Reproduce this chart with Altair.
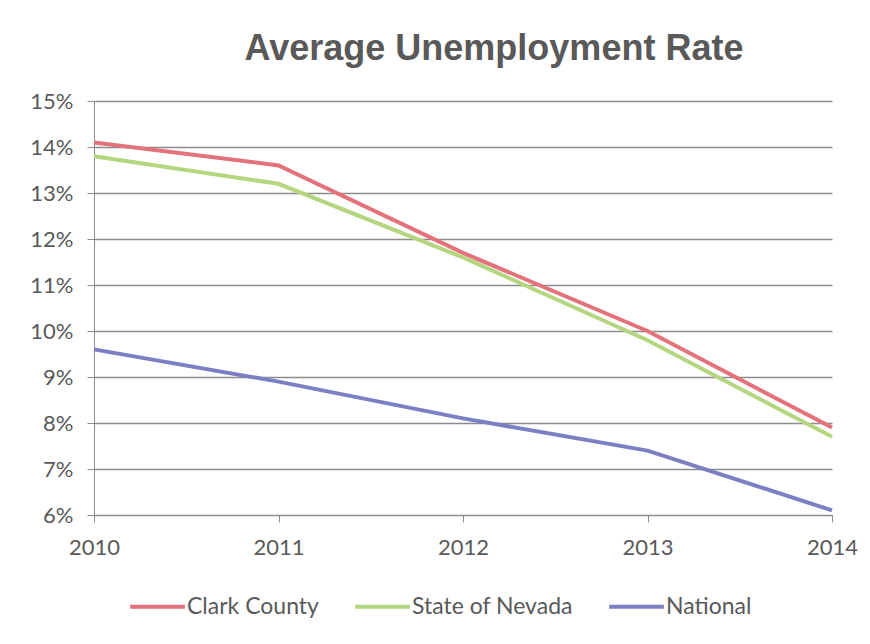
import altair as alt
import pandas as pd

years = ["2010", "2011", "2012", "2013", "2014"]
clark_county = [14.1, 13.6, 11.7, 10.0, 7.9]
state_of_nevada = [13.8, 13.2, 11.6, 9.8, 7.7]
national = [9.6, 8.9, 8.1, 7.4, 6.1]
series_names = ["Clark County", "State of Nevada", "National"]
series_colors = ["#e3727b", "#b3d67f", "#7b80c3"]

rows = []
for name, vals in zip(series_names, [clark_county, state_of_nevada, national]):
    for y, v in zip(years, vals):
        rows.append({"Year": y, "Rate": v / 100.0, "Series": name})
df = pd.DataFrame(rows)

label_font = "Lato"
gray = "#595959"

chart = (
    alt.Chart(df)
    .mark_line(strokeWidth=4)
    .encode(
        x=alt.X(
            "Year:O",
            scale=alt.Scale(type="point", padding=0),
            axis=alt.Axis(
                title=None,
                labelAngle=0,
                grid=False,
                domainColor="#8c8c8c",
                tickColor="#8c8c8c",
                tickSize=7,
                labelPadding=15,
                labelFontSize=22,
                labelColor=gray,
                labelFont=label_font,
            ),
        ),
        y=alt.Y(
            "Rate:Q",
            scale=alt.Scale(domain=[0.06, 0.15], nice=False, zero=False),
            axis=alt.Axis(
                title=None,
                format=".0%",
                values=[0.06, 0.07, 0.08, 0.09, 0.10, 0.11, 0.12, 0.13, 0.14, 0.15],
                grid=True,
                gridColor="#8c8c8c",
                gridWidth=1.3,
                domainColor="#8c8c8c",
                tickColor="#8c8c8c",
                tickSize=7,
                labelPadding=14,
                labelFontSize=22,
                labelColor=gray,
                labelFont=label_font,
            ),
        ),
        color=alt.Color(
            "Series:N",
            scale=alt.Scale(domain=series_names, range=series_colors),
            sort=series_names,
            legend=alt.Legend(
                title=None,
                orient="none",
                direction="horizontal",
                legendX=34,
                legendY=476,
                symbolType="stroke",
                symbolSize=3000,
                symbolStrokeWidth=4,
                labelFontSize=23,
                labelColor=gray,
                labelFont=label_font,
                labelOffset=0,
                columnPadding=28,
                padding=0,
                labelLimit=300,
            ),
        ),
    )
    .properties(
        width=738,
        height=414,
        padding={"left": 86, "top": 93, "right": 30, "bottom": 121},
        autosize=alt.AutoSizeParams(type="none"),
        title=alt.TitleParams(
            "Average Unemployment Rate",
            fontSize=36,
            font="Liberation Sans",
            fontWeight="bold",
            color=gray,
            anchor="middle",
            dx=31,
            offset=22,
        ),
    )
    .configure_view(stroke=None)
)

chart.save("out.html", embed_options={"renderer": "svg", "actions": False})
